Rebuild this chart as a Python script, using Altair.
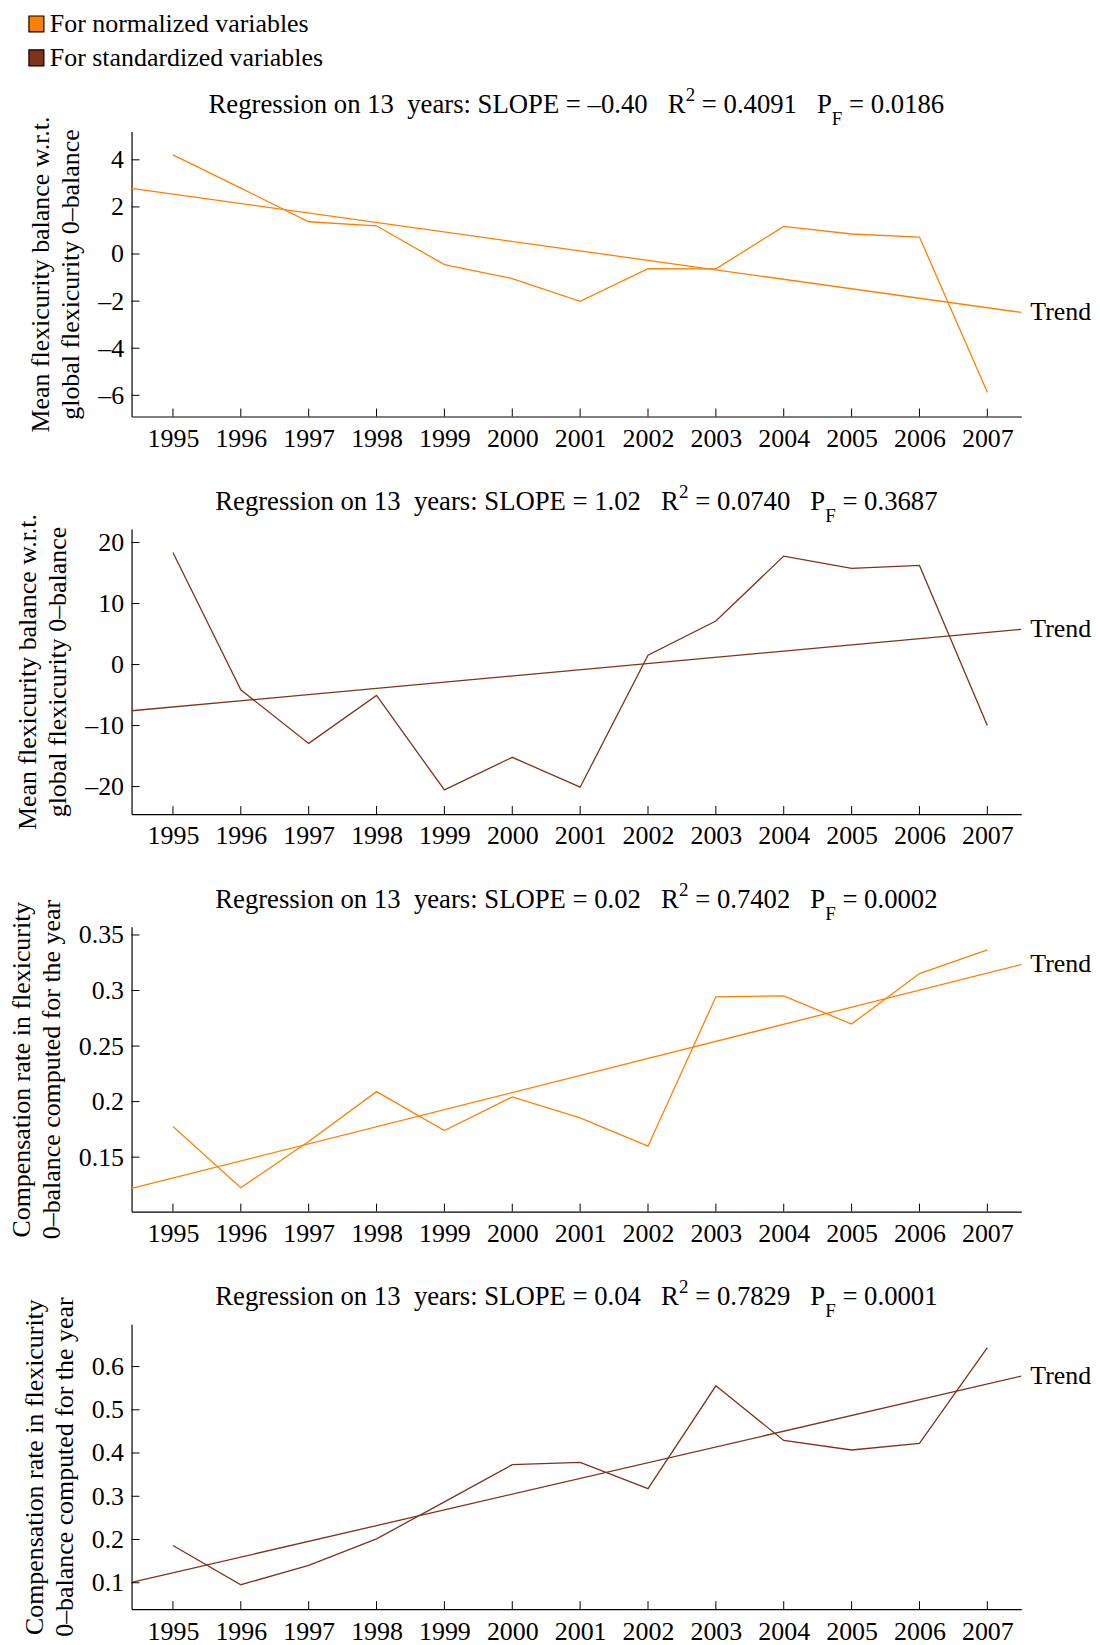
import altair as alt
import pandas as pd

# ---------------- data ----------------
years = list(range(1995, 2008))

norm_balance = [4.21, 2.80, 1.37, 1.20, -0.45, -1.04, -2.01, -0.62, -0.63, 1.17, 0.85, 0.72, -5.87]
std_balance = [18.37, -4.14, -12.92, -5.07, -20.55, -15.2, -20.1, 1.53, 7.14, 17.77, 15.75, 16.24, -9.97]
norm_comp = [0.1775, 0.1225, 0.164, 0.209, 0.174, 0.2042, 0.1853, 0.1599, 0.2943, 0.2952, 0.2698, 0.3153, 0.3365]
std_comp = [0.186, 0.0954, 0.140, 0.2015, 0.287, 0.373, 0.3785, 0.3177, 0.5555, 0.429, 0.407, 0.4223, 0.6438]

trend_years = [1994.39, 2007.5]
trend_norm_balance = [2.79, -2.48]
trend_std_balance = [-7.57, 5.78]
trend_norm_comp = [0.1219, 0.3234]
trend_std_comp = [0.1008, 0.5777]

slopes = ["\u20130.40", "1.02", "0.02", "0.04"]
r2s = ["0.4091", "0.0740", "0.7402", "0.7829"]
pfs = ["0.0186", "0.3687", "0.0002", "0.0001"]

ticks_balance_norm = [-6, -4, -2, 0, 2, 4]
ticks_balance_std = [-20, -10, 0, 10, 20]
ticks_comp_norm = [0.15, 0.2, 0.25, 0.3, 0.35]
ticks_comp_std = [0.1, 0.2, 0.3, 0.4, 0.5, 0.6]

title_balance = ["Mean flexicurity balance w.r.t.", "global flexicurity 0\u2013balance"]
title_comp = ["Compensation rate in flexicurity", "0\u2013balance computed for the year"]

legend_labels = ["For normalized variables", "For standardized variables"]
ORANGE = "#ff8000"
BROWN = "#7f3319"

# ---------------- layout ----------------
W, H = 893, 286
FONT = "Liberation Serif"
FS = 26
TFS = 26.8
SUBFS = 19
XDOMAIN = [1994.39, 2007.5]

NB = "\u00a0"
TIMES = {' ': 250, NB: 250, 'R': 667, 'e': 444, 'g': 500, 'r': 333, 's': 389, 'i': 278,
         'o': 500, 'n': 500, 'y': 500, 'a': 444, ':': 278, 'S': 556, 'L': 611, 'O': 722,
         'P': 556, 'E': 611, 'F': 556, '=': 564, '\u2013': 500, '.': 250}


def tw(s, size):
    return sum(TIMES.get(c, 500) for c in s) * size / 1000.0


def title_layers(slope, r2, pf):
    a = f"Regression on 13{NB}{NB}years: SLOPE = {slope}{NB}{NB}{NB}R"
    b = f"={NB}{r2}{NB}{NB}{NB}P"
    c = f"={NB}{pf}"
    gap = tw(NB, TFS)
    # (text, size, vertical offset, gap before)
    pieces = [(a, TFS, 0, 0), ("2", SUBFS, -12, 0), (b, TFS, 0, gap), ("F", SUBFS, 12, 0), (c, TFS, 0, gap)]
    total = sum(tw(t, s) + g for t, s, _, g in pieces)
    x = W / 2 - total / 2
    base = -19
    out = []
    for t, s, off, g in pieces:
        x += g
        out.append(
            alt.Chart(pd.DataFrame({"t": [t]})).mark_text(
                align="left", baseline="alphabetic", font=FONT, fontSize=s, color="black"
            ).encode(text="t:N", x=alt.value(x), y=alt.value(base + off))
        )
        x += tw(t, s)
    return out


def panel(values, tvals, color, yticks, ydomain, yfmt, ytitle, k, legend=False):
    df = pd.DataFrame({"year": years, "v": values})
    tdf = pd.DataFrame({"year": trend_years, "v": tvals})
    x = alt.X("year:Q", scale=alt.Scale(domain=XDOMAIN, nice=False, zero=False),
              axis=alt.Axis(values=years, format="d", title=None, labelPadding=9))
    y = alt.Y("v:Q", scale=alt.Scale(domain=ydomain, nice=False, zero=False),
              axis=alt.Axis(values=yticks, format=yfmt, title=ytitle, labelPadding=8,
                            labelExpr="replace(datum.label, '\u2212', '\u2013')"))
    line = alt.Chart(df).mark_line(color=color, strokeWidth=1.3).encode(x=x, y=y)
    trend = alt.Chart(tdf).mark_line(color=color, strokeWidth=1.3).encode(x="year:Q", y="v:Q")
    tlabel = alt.Chart(tdf.tail(1)).mark_text(
        text="Trend", align="left", baseline="middle", dx=9, font=FONT, fontSize=FS, color="black"
    ).encode(x="year:Q", y="v:Q")
    xt = alt.Chart(pd.DataFrame({"year": years})).mark_rule(color="black", strokeWidth=1).encode(
        x="year:Q", y=alt.value(H), y2=alt.value(H - 8))
    yt = alt.Chart(pd.DataFrame({"v": yticks})).mark_rule(color="black", strokeWidth=1).encode(
        y="v:Q", x=alt.value(0), x2=alt.value(8))
    layers = [line, trend, tlabel, xt, yt] + title_layers(slopes[k], r2s[k], pfs[k])
    if legend:
        for i, (lab, col) in enumerate(zip(legend_labels, [ORANGE, BROWN])):
            yc = -108 + 34 * i
            layers.append(
                alt.Chart(pd.DataFrame({"t": [lab]})).mark_rect(
                    fill=col, stroke="black", strokeWidth=1.2
                ).encode(x=alt.value(-103), x2=alt.value(-88), y=alt.value(yc - 8), y2=alt.value(yc + 8))
            )
            layers.append(
                alt.Chart(pd.DataFrame({"t": [lab]})).mark_text(
                    align="left", baseline="middle", font=FONT, fontSize=FS, color="black"
                ).encode(text="t:N", x=alt.value(-82), y=alt.value(yc))
            )
    return alt.layer(*layers).properties(width=W, height=H)


p1 = panel(norm_balance, trend_norm_balance, ORANGE, ticks_balance_norm, [-6.9, 5.2], "d", title_balance, 0, legend=True)
p2 = panel(std_balance, trend_std_balance, BROWN, ticks_balance_std, [-24.5, 22.2], "d", title_balance, 1)
p3 = panel(norm_comp, trend_norm_comp, ORANGE, ticks_comp_norm, [0.101, 0.3575], ".2~f", title_comp, 2)
p4 = panel(std_comp, trend_std_comp, BROWN, ticks_comp_std, [0.039, 0.698], ".1~f", title_comp, 3)

chart = alt.vconcat(p1, p2, p3, p4, spacing=113, bounds="flush").properties(
    padding={"left": 0, "top": 0, "right": 0, "bottom": 0}
).configure_view(stroke=None).configure_axis(
    grid=False, ticks=False, domainColor="black", domainWidth=1.2,
    labelFont=FONT, labelFontSize=FS, labelColor="black",
    titleFont=FONT, titleFontSize=FS, titleFontWeight="normal", titleColor="black",
    titleLineHeight=30, titlePadding=14
).configure_text(font=FONT)

chart.save("out.html", embed_options={"renderer": "svg", "actions": False})
